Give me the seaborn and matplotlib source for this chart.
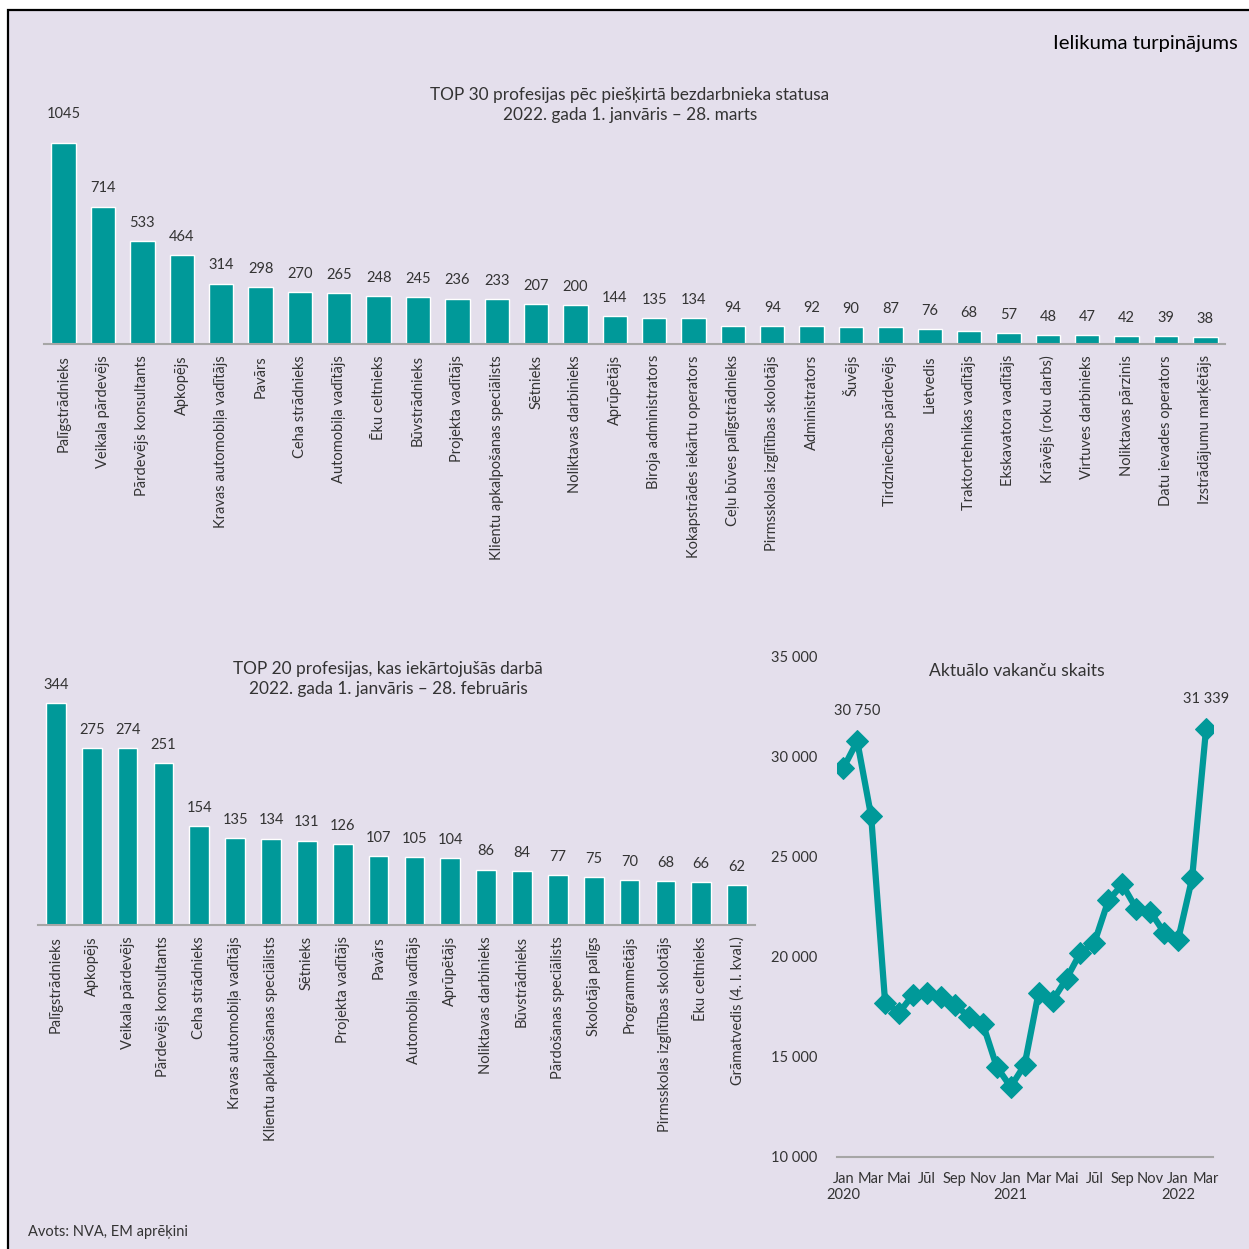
import numpy as np
import pandas as pd
import matplotlib
matplotlib.use('Agg')
import matplotlib.pyplot as plt
import matplotlib.patches as patches
import seaborn as sns

# TOP 30 professions, unemployed status granted (1 Jan - 28 Mar 2022)
top30_prof = ['Palīgstrādnieks', 'Veikala pārdevējs', 'Pārdevējs konsultants', 'Apkopējs',
              'Kravas automobiļa vadītājs', 'Pavārs', 'Ceha strādnieks', 'Automobiļa vadītājs',
              'Ēku celtnieks', 'Būvstrādnieks', 'Projekta vadītājs', 'Klientu apkalpošanas speciālists',
              'Sētnieks', 'Noliktavas darbinieks', 'Aprūpētājs', 'Biroja administrators',
              'Kokapstrādes iekārtu operators', 'Ceļu būves palīgstrādnieks',
              'Pirmsskolas izglītības skolotājs', 'Administrators', 'Šuvējs',
              'Tirdzniecības pārdevējs', 'Lietvedis', 'Traktortehnikas vadītājs',
              'Ekskavatora vadītājs', 'Krāvējs (roku darbs)', 'Virtuves darbinieks',
              'Noliktavas pārzinis', 'Datu ievades operators', 'Izstrādājumu marķētājs']
top30_vals = [1045, 714, 533, 464, 314, 298, 270, 265, 248, 245, 236, 233, 207, 200, 144,
              135, 134, 94, 94, 92, 90, 87, 76, 68, 57, 48, 47, 42, 39, 38]

# TOP 20 professions, employed (1 Jan - 28 Feb 2022)
top20_prof = ['Palīgstrādnieks', 'Apkopējs', 'Veikala pārdevējs', 'Pārdevējs konsultants',
              'Ceha strādnieks', 'Kravas automobiļa vadītājs', 'Klientu apkalpošanas speciālists',
              'Sētnieks', 'Projekta vadītājs', 'Pavārs', 'Automobiļa vadītājs', 'Aprūpētājs',
              'Noliktavas darbinieks', 'Būvstrādnieks', 'Pārdošanas speciālists',
              'Skolotāja palīgs', 'Programmētājs', 'Pirmsskolas izglītības skolotājs',
              'Ēku celtnieks', 'Grāmatvedis (4. l. kval.)']
top20_vals = [344, 275, 274, 251, 154, 135, 134, 131, 126, 107, 105, 104, 86, 84, 77,
              75, 70, 68, 66, 62]

# current vacancies, monthly Jan 2020 - Mar 2022
vacancies = [29400, 30750, 27000, 17700, 17200, 18100, 18200, 18000, 17600, 17000, 16650,
             14500, 13500, 14600, 18200, 17800, 18900, 20200, 20700, 22800, 23600, 22400,
             22250, 21200, 20850, 23900, 31339]
month_ticks = ['Jan\n2020', 'Mar', 'Mai', 'Jūl', 'Sep', 'Nov', 'Jan\n2021', 'Mar', 'Mai',
               'Jūl', 'Sep', 'Nov', 'Jan\n2022', 'Mar']

sns.set_style('white')
plt.rcParams['font.family'] = ['Lato', 'DejaVu Sans']

BG = '#E4DFEC'
TEAL = '#009999'
TXT = '#333333'
AXC = '#A6A6A6'
W = 1249.0

fig = plt.figure(figsize=(12.49, 12.49), dpi=100, facecolor='white')
fig.add_artist(patches.Rectangle((8 / W, -0.05), 1.1, 1 - 10 / W + 0.05,
                                 transform=fig.transFigure, facecolor=BG,
                                 edgecolor='black', linewidth=1.6, zorder=-10))


def bar_panel(rect, names, vals, ymax, width):
    ax = fig.add_axes(rect)
    ax.set_facecolor('none')
    df = pd.DataFrame({'prof': names, 'val': vals})
    sns.barplot(data=df, x='prof', y='val', color=TEAL, saturation=1, width=width, ax=ax)
    n = len(names)
    ax.set_xlim(-0.5, n - 0.5)
    ax.set_ylim(0, ymax)
    labels = ax.bar_label(ax.containers[0], padding=8, fontsize=10.5, color=TXT)
    for s in ['left', 'top', 'right']:
        ax.spines[s].set_visible(False)
    ax.spines['bottom'].set_color(AXC)
    ax.spines['bottom'].set_linewidth(1.5)
    ax.set_xticks(np.arange(n))
    ax.set_xticklabels(names, rotation=90, fontsize=10.5, color=TXT)
    ax.set_xticks(np.arange(-0.5, n, 1), minor=True)
    ax.tick_params(axis='x', which='major', length=0, pad=8)
    ax.tick_params(axis='x', which='minor', length=6, width=1.5, color=AXC, direction='out')
    ax.set_yticks([])
    ax.set_xlabel('')
    ax.set_ylabel('')
    return ax, labels


ax1, lab1 = bar_panel([44 / W, 1 - 344 / W, 1181 / W, 231 / W], top30_prof, top30_vals, 1200, 0.62)
lab1[0].set_y(lab1[0].get_position()[1])
lab1[0].set_position(lab1[0].get_position())
lab1[0].xyann = (0, 16)
ax2, lab2 = bar_panel([38 / W, 1 - 925 / W, 717 / W, 258 / W], top20_prof, top20_vals, 400, 0.55)

fig.text(630 / W, 1 - 105 / W,
         'TOP 30 profesijas pēc piešķirtā bezdarbnieka statusa\n2022. gada 1. janvāris – 28. marts',
         ha='center', va='center', fontsize=12.4, color=TXT, linespacing=1.35)
fig.text(388 / W, 1 - 679 / W,
         'TOP 20 profesijas, kas iekārtojušās darbā\n2022. gada 1. janvāris – 28. februāris',
         ha='center', va='center', fontsize=12.4, color=TXT, linespacing=1.35)

# line chart
ax3 = fig.add_axes([837 / W, 1 - 1157 / W, 376 / W, 501 / W])
ax3.set_facecolor('none')
df3 = pd.DataFrame({'m': np.arange(len(vacancies)), 'v': vacancies})
sns.lineplot(data=df3, x='m', y='v', color=TEAL, lw=4.5, marker='D', markersize=11,
             markeredgecolor=TEAL, ax=ax3)
ax3.set_xlim(-0.45, len(vacancies) - 0.5)
ax3.set_ylim(10000, 35000)
ax3.set_yticks(np.arange(10000, 35001, 5000))
ax3.set_yticklabels([f'{v:,}'.replace(',', ' ') for v in range(10000, 35001, 5000)],
                    fontsize=10.5, color=TXT)
ax3.set_xticks(np.arange(0, len(vacancies), 2))
ax3.set_xticklabels(month_ticks, fontsize=10.5, color=TXT)
ax3.set_xticks(np.arange(len(vacancies)), minor=True)
ax3.tick_params(axis='y', length=0, pad=14)
ax3.tick_params(axis='x', which='both', length=5, width=1.5, color=AXC, pad=6)
for s in ['left', 'top', 'right']:
    ax3.spines[s].set_visible(False)
ax3.spines['bottom'].set_color(AXC)
ax3.spines['bottom'].set_linewidth(1.5)
ax3.set_xlabel('')
ax3.set_ylabel('')
for i in [1, len(vacancies) - 1]:
    ax3.annotate(f'{vacancies[i]:,}'.replace(',', ' '), (i, vacancies[i]),
                 xytext=(0, 22), textcoords='offset points', ha='center', va='center',
                 fontsize=10.5, color=TXT)

fig.text(1017 / W, 1 - 671 / W, 'Aktuālo vakanču skaits', ha='center', va='center',
         fontsize=12.6, color=TXT)
fig.text(1238 / W, 1 - 43 / W, 'Ielikuma turpinājums', ha='right', va='center',
         fontsize=14.6, color='black')
fig.text(28 / W, 1 - 1232 / W, 'Avots: NVA, EM aprēķini', ha='left', va='center',
         fontsize=10.5, color=TXT)

fig.savefig('out.png', dpi=100, facecolor='white')
